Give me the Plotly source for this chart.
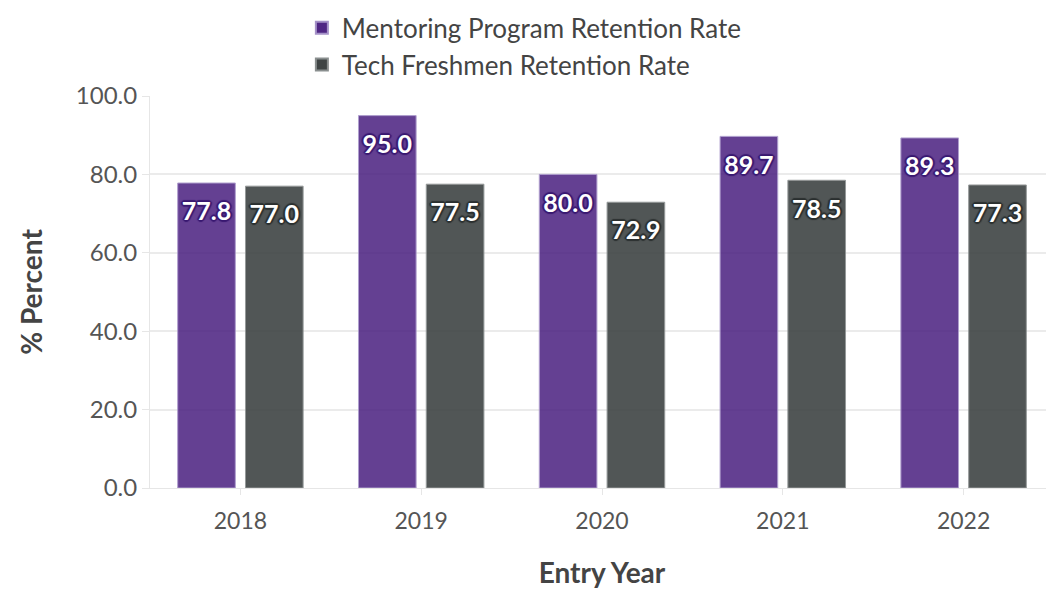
import plotly.graph_objects as go

years = ["2018", "2019", "2020", "2021", "2022"]
mentoring = [77.8, 95.0, 80.0, 89.7, 89.3]
tech = [77.0, 77.5, 72.9, 78.5, 77.3]
series_names = ["Mentoring Program Retention Rate", "Tech Freshmen Retention Rate"]

FONT = "Lato, Noto Sans, sans-serif"
PURPLE = "#4F2683"
GRAY = "#3F4444"


def outline(c):
    return ", ".join(f"{dx}px {dy}px 1px {c}" for dx, dy in
                     [(2, 0), (-2, 0), (0, 2), (0, -2), (1, 1), (-1, -1), (1, -1), (-1, 1)])


fig = go.Figure()
fig.add_trace(go.Bar(
    x=years, y=mentoring, name=series_names[0], offsetgroup="m",
    marker=dict(color=PURPLE, opacity=0.88, line=dict(color="#a592c8", width=1)),
    hoverinfo="x+y",
))
fig.add_trace(go.Bar(
    x=years, y=tech, name=series_names[1], offsetgroup="t",
    marker=dict(color=GRAY, opacity=0.9, line=dict(color="#8a8f8f", width=1)),
    hoverinfo="x+y",
))
# value labels, placed just below each bar top
fig.add_trace(go.Scatter(
    x=years, y=mentoring, offsetgroup="m", mode="markers+text",
    text=[f"{v:.1f}" for v in mentoring], textposition="bottom center",
    marker=dict(size=28, opacity=0), showlegend=False, hoverinfo="skip",
    textfont=dict(family=FONT, size=25, color="white", weight="bold",
                  shadow=outline("#3b1a72")),
    cliponaxis=False,
))
fig.add_trace(go.Scatter(
    x=years, y=tech, offsetgroup="t", mode="markers+text",
    text=[f"{v:.1f}" for v in tech], textposition="bottom center",
    marker=dict(size=28, opacity=0), showlegend=False, hoverinfo="skip",
    textfont=dict(family=FONT, size=25, color="white", weight="bold",
                  shadow=outline("#2c3131")),
    cliponaxis=False,
))

fig.update_layout(
    width=1046, height=582,
    margin=dict(l=142, r=0, t=88, b=102, autoexpand=False),
    paper_bgcolor="white", plot_bgcolor="white",
    font=dict(family=FONT, color="#444"),
    barmode="group", bargap=0.25, bargroupgap=0.15,
    scattermode="group", scattergap=0.25,
    showlegend=True,
    legend=dict(orientation="v", x=0.168, y=1.234, xanchor="left", yanchor="top",
                font=dict(size=26, color="#444"), itemsizing="constant",
                tracegroupgap=0),
    xaxis=dict(
        title=dict(text="<b>Entry Year</b>", font=dict(size=28, color="#444"), standoff=30),
        tickfont=dict(size=23, color="#555"),
        ticks="outside", ticklen=6, tickcolor="#e6e6e6",
        ticklabelstandoff=6,
        showline=True, linecolor="#e6e6e6",
        showgrid=False,
    ),
    yaxis=dict(
        title=dict(text="<b>% Percent</b>", font=dict(size=28, color="#444"), standoff=25),
        tickfont=dict(size=24, color="#555"),
        range=[0, 100], dtick=20, tickformat=".1f",
        ticks="outside", ticklen=7, tickcolor="#e6e6e6",
        showline=True, linecolor="#e6e6e6",
        showgrid=True, gridcolor="#ebebeb", gridwidth=2,
        zeroline=False,
    ),
)

fig.write_html("out.html")
